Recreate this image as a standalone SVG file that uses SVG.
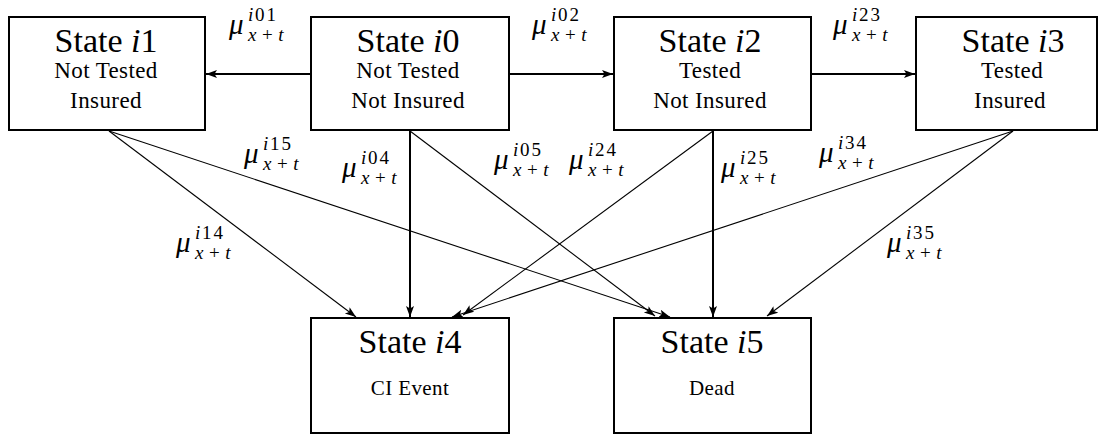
<svg xmlns="http://www.w3.org/2000/svg" width="1107" height="435" viewBox="0 0 1107 435">
<style>
.box{fill:#fff;stroke:#000;stroke-width:2}
text{font-family:"Liberation Serif","DejaVu Serif","Times New Roman",serif;fill:#000}
.t1{font-size:34px;text-anchor:middle}
.t2{font-size:23px;text-anchor:middle;letter-spacing:0.4px}
.t3{font-size:21px;text-anchor:middle;letter-spacing:0.4px}
.mu{font-size:29px;font-style:italic}
.sp{font-size:19px;font-style:normal;letter-spacing:1.8px}
.sb{font-size:19px;font-style:normal;letter-spacing:5.5px}
.it{font-style:italic}
.thick{stroke:#000;stroke-width:2;fill:none}
.thin{stroke:#000;stroke-width:1.1;fill:none}
</style>
<defs>
<marker id="ah" markerUnits="userSpaceOnUse" markerWidth="12" markerHeight="10" refX="11" refY="4" orient="auto">
<path d="M0,0 L11,4 L0,8 L2.5,4 Z" fill="#000"/>
</marker>
</defs>
<rect width="1107" height="435" fill="#fff"/>
<g id="connectors">
<line class="thick" x1="311" y1="74" x2="206" y2="74" marker-end="url(#ah)"/>
<line class="thick" x1="509" y1="74" x2="613" y2="74" marker-end="url(#ah)"/>
<line class="thick" x1="811" y1="74" x2="915" y2="74" marker-end="url(#ah)"/>
<line class="thick" x1="410" y1="131" x2="410" y2="317" marker-end="url(#ah)"/>
<line class="thick" x1="713" y1="131" x2="713" y2="317" marker-end="url(#ah)"/>
<line class="thin" x1="109" y1="131" x2="356" y2="317" marker-end="url(#ah)"/>
<line class="thin" x1="109" y1="131" x2="670" y2="317" marker-end="url(#ah)"/>
<line class="thin" x1="410" y1="131" x2="655" y2="316" marker-end="url(#ah)"/>
<line class="thin" x1="713" y1="131" x2="463" y2="315" marker-end="url(#ah)"/>
<line class="thin" x1="1013" y1="131" x2="452" y2="317" marker-end="url(#ah)"/>
<line class="thin" x1="1013" y1="131" x2="767" y2="316" marker-end="url(#ah)"/>
</g>
<g id="labels">
<text class="mu" x="229" y="34">μ<tspan class="sp" x="248" y="21"><tspan class="it">i</tspan>01</tspan><tspan class="sb" x="248" y="41"><tspan class="it">x</tspan>+<tspan class="it">t</tspan></tspan></text>
<text class="mu" x="532" y="34">μ<tspan class="sp" x="551" y="21"><tspan class="it">i</tspan>02</tspan><tspan class="sb" x="551" y="41"><tspan class="it">x</tspan>+<tspan class="it">t</tspan></tspan></text>
<text class="mu" x="833" y="34">μ<tspan class="sp" x="852" y="21"><tspan class="it">i</tspan>23</tspan><tspan class="sb" x="852" y="41"><tspan class="it">x</tspan>+<tspan class="it">t</tspan></tspan></text>
<text class="mu" x="244" y="163">μ<tspan class="sp" x="263" y="150"><tspan class="it">i</tspan>15</tspan><tspan class="sb" x="263" y="170"><tspan class="it">x</tspan>+<tspan class="it">t</tspan></tspan></text>
<text class="mu" x="342" y="177">μ<tspan class="sp" x="361" y="164"><tspan class="it">i</tspan>04</tspan><tspan class="sb" x="361" y="184"><tspan class="it">x</tspan>+<tspan class="it">t</tspan></tspan></text>
<text class="mu" x="494" y="169">μ<tspan class="sp" x="513" y="156"><tspan class="it">i</tspan>05</tspan><tspan class="sb" x="513" y="176"><tspan class="it">x</tspan>+<tspan class="it">t</tspan></tspan></text>
<text class="mu" x="569" y="169">μ<tspan class="sp" x="588" y="156"><tspan class="it">i</tspan>24</tspan><tspan class="sb" x="588" y="176"><tspan class="it">x</tspan>+<tspan class="it">t</tspan></tspan></text>
<text class="mu" x="721" y="177">μ<tspan class="sp" x="740" y="164"><tspan class="it">i</tspan>25</tspan><tspan class="sb" x="740" y="184"><tspan class="it">x</tspan>+<tspan class="it">t</tspan></tspan></text>
<text class="mu" x="819" y="162">μ<tspan class="sp" x="838" y="149"><tspan class="it">i</tspan>34</tspan><tspan class="sb" x="838" y="169"><tspan class="it">x</tspan>+<tspan class="it">t</tspan></tspan></text>
<text class="mu" x="176" y="252">μ<tspan class="sp" x="195" y="239"><tspan class="it">i</tspan>14</tspan><tspan class="sb" x="195" y="259"><tspan class="it">x</tspan>+<tspan class="it">t</tspan></tspan></text>
<text class="mu" x="887" y="252">μ<tspan class="sp" x="906" y="239"><tspan class="it">i</tspan>35</tspan><tspan class="sb" x="906" y="259"><tspan class="it">x</tspan>+<tspan class="it">t</tspan></tspan></text>
</g>
<g id="state-i1">
<rect class="box" x="9" y="17" width="196" height="113"/>
<text class="t1" x="106" y="52">State <tspan class="it">i</tspan>1</text>
<text class="t2" x="106" y="78">Not Tested</text>
<text class="t2" x="106" y="108">Insured</text>
</g>
<g id="state-i0">
<rect class="box" x="311" y="17" width="198" height="113"/>
<text class="t1" x="408" y="52">State <tspan class="it">i</tspan>0</text>
<text class="t2" x="408" y="78">Not Tested</text>
<text class="t2" x="408" y="108">Not Insured</text>
</g>
<g id="state-i2">
<rect class="box" x="614" y="17" width="197" height="113"/>
<text class="t1" x="710" y="52">State <tspan class="it">i</tspan>2</text>
<text class="t2" x="710" y="78">Tested</text>
<text class="t2" x="710" y="108">Not Insured</text>
</g>
<g id="state-i3">
<rect class="box" x="916" y="17" width="181" height="113"/>
<text class="t1" x="1013" y="52">State <tspan class="it">i</tspan>3</text>
<text class="t2" x="1012" y="78">Tested</text>
<text class="t2" x="1010" y="108">Insured</text>
</g>
<g id="state-i4">
<rect class="box" x="311" y="318" width="198" height="115"/>
<text class="t1" x="410" y="353">State <tspan class="it">i</tspan>4</text>
<text class="t3" x="410" y="395">CI Event</text>
</g>
<g id="state-i5">
<rect class="box" x="614" y="318" width="197" height="115"/>
<text class="t1" x="712" y="353">State <tspan class="it">i</tspan>5</text>
<text class="t3" x="712" y="395">Dead</text>
</g>
</svg>
